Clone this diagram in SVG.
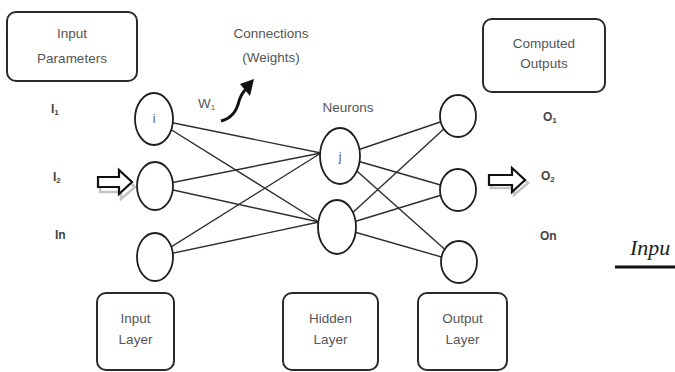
<svg xmlns="http://www.w3.org/2000/svg" width="675" height="372" viewBox="0 0 675 372">
<style>
.box{fill:#fff;stroke:#2b2b2b;stroke-width:2}
.neuron{fill:#fff;stroke:#1e1e1e;stroke-width:1.8}
.conn{stroke:#2e2e2e;stroke-width:1.4;fill:none}
.lbl{font-family:"Liberation Sans",Arial,sans-serif;font-size:13.5px;fill:#555;text-anchor:middle}
.io{font-family:"Liberation Sans",Arial,sans-serif;font-size:12px;font-weight:bold;fill:#444}
.sub{font-size:8px}
.blk{fill:#fff;stroke:#111;stroke-width:2.2;stroke-linejoin:miter}
.shadow{fill:none;stroke:#aaa;stroke-width:2.5;opacity:0.7}
</style>
<rect width="675" height="372" fill="#fff"/>

<g id="connectors">
  <line class="conn" x1="154" y1="119" x2="321" y2="153"/>
  <line class="conn" x1="154" y1="119" x2="319" y2="222"/>
  <line class="conn" x1="155" y1="186" x2="321" y2="153"/>
  <line class="conn" x1="155" y1="186" x2="319" y2="222"/>
  <line class="conn" x1="155" y1="257" x2="321" y2="153"/>
  <line class="conn" x1="155" y1="257" x2="319" y2="222"/>
  <line class="conn" x1="340" y1="156" x2="458" y2="116"/>
  <line class="conn" x1="340" y1="156" x2="458" y2="190"/>
  <line class="conn" x1="340" y1="156" x2="459" y2="262"/>
  <line class="conn" x1="337" y1="227" x2="458" y2="116"/>
  <line class="conn" x1="337" y1="227" x2="458" y2="190"/>
  <line class="conn" x1="337" y1="227" x2="459" y2="262"/>
</g>

<g id="input-parameters">
  <rect class="box" x="7" y="12" width="130" height="69" rx="9"/>
  <text class="lbl" x="72" y="38">Input</text>
  <text class="lbl" x="72" y="63">Parameters</text>
</g>

<g id="connections-label">
  <text class="lbl" x="271" y="38">Connections</text>
  <text class="lbl" x="271" y="62">(Weights)</text>
  <path d="M221,121 C233,118 237,110 239,101 C241,95 243,92 246,89" fill="none" stroke="#111" stroke-width="3"/>
  <polygon points="254,79 240,84 250,96" fill="#111"/>
  <text class="lbl" x="198" y="108" style="text-anchor:start">W<tspan class="sub" dy="2">1</tspan></text>
</g>

<g id="computed-outputs">
  <rect class="box" x="483" y="19" width="122" height="73" rx="9"/>
  <text class="lbl" x="544" y="48">Computed</text>
  <text class="lbl" x="544" y="68">Outputs</text>
</g>

<g id="input-labels">
  <text class="io" x="51" y="113">I<tspan class="sub" dy="2">1</tspan></text>
  <text class="io" x="53" y="181">I<tspan class="sub" dy="2">2</tspan></text>
  <text class="io" x="55" y="239">In</text>
</g>

<g id="output-labels">
  <text class="io" x="543" y="121">O<tspan class="sub" dy="2">1</tspan></text>
  <text class="io" x="541" y="180">O<tspan class="sub" dy="2">2</tspan></text>
  <text class="io" x="540" y="240">On</text>
</g>

<g id="input-arrow">
  <polygon class="shadow" points="99,180 120,180 120,173 134,185 120,197 120,190 99,190" transform="translate(1,2)"/>
  <polygon class="blk" points="98,177 119,177 119,170 132,182 119,194 119,187 98,187"/>
</g>
<g id="output-arrow">
  <polygon class="shadow" points="490,176 513,176 513,169 527,181 513,193 513,186 490,186" transform="translate(1,2)"/>
  <polygon class="blk" points="489,175 512,175 512,168 525,180 512,192 512,185 489,185"/>
</g>

<g id="neuron-i">
  <ellipse class="neuron" cx="154" cy="119" rx="19" ry="26"/>
  <text class="lbl" x="154" y="123" style="font-size:12px">i</text>
</g>
<g id="neuron-in2"><ellipse class="neuron" cx="155" cy="186" rx="18" ry="24"/></g>
<g id="neuron-in3"><ellipse class="neuron" cx="155" cy="257" rx="18" ry="24"/></g>

<g id="neurons-label"><text class="lbl" x="348" y="112">Neurons</text></g>
<g id="neuron-j">
  <ellipse class="neuron" cx="340" cy="156" rx="20" ry="28"/>
  <text class="lbl" x="340" y="161" style="font-size:12px">j</text>
</g>
<g id="neuron-h2"><ellipse class="neuron" cx="337" cy="227" rx="19" ry="27"/></g>

<g id="neuron-o1"><ellipse class="neuron" cx="458" cy="116" rx="18" ry="21"/></g>
<g id="neuron-o2"><ellipse class="neuron" cx="458" cy="190" rx="18" ry="21"/></g>
<g id="neuron-o3"><ellipse class="neuron" cx="459" cy="262" rx="18" ry="21"/></g>

<g id="input-layer">
  <rect class="box" x="97" y="293" width="77" height="77" rx="9"/>
  <text class="lbl" x="135.5" y="323">Input</text>
  <text class="lbl" x="135.5" y="344">Layer</text>
</g>
<g id="hidden-layer">
  <rect class="box" x="283" y="293" width="95" height="77" rx="9"/>
  <text class="lbl" x="330.5" y="323">Hidden</text>
  <text class="lbl" x="330.5" y="344">Layer</text>
</g>
<g id="output-layer">
  <rect class="box" x="418" y="293" width="89" height="77" rx="9"/>
  <text class="lbl" x="462.5" y="323">Output</text>
  <text class="lbl" x="462.5" y="344">Layer</text>
</g>

<g id="cut-text">
  <text x="630" y="255" style="font-family:'Liberation Serif','Times New Roman',serif;font-style:italic;font-size:22px;fill:#222">Inpu</text>
  <line x1="615" y1="267" x2="675" y2="267" stroke="#111" stroke-width="3"/>
</g>
</svg>
